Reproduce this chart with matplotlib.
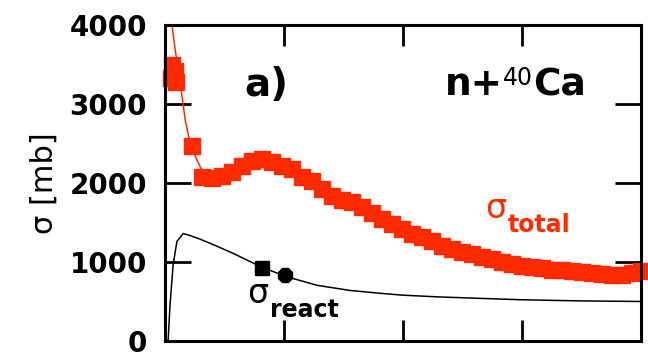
import matplotlib
matplotlib.use("Agg")
import matplotlib.pyplot as plt

plt.rcParams["font.family"] = "DejaVu Sans"

RED = "#ff2a00"

# measured total cross section (red squares)
tot_x = [2.9, 4.2, 2.5, 4.6, 11.3, 15.5, 19.7, 23.9, 28.2, 32.4, 36.6, 40.8, 45.0,
         49.2, 53.4, 57.6, 61.8, 66.0, 70.2, 74.4, 78.6, 82.8, 87.0, 91.2, 95.4,
         99.6, 103.8, 108.0, 112.2, 116.4, 120.6, 124.8, 129.0, 133.2, 137.4,
         141.6, 145.8, 150.0, 154.2, 158.4, 162.6, 166.8, 171.0, 175.2, 179.4,
         183.6, 187.8, 192.0, 196.2, 200.0]
tot_y = [3500, 3420, 3330, 3280, 2465, 2080, 2065, 2090, 2140, 2220, 2280, 2310, 2270,
         2220, 2175, 2080, 2020, 1920, 1840, 1785, 1760, 1690, 1620, 1540, 1480,
         1420, 1360, 1315, 1260, 1200, 1165, 1130, 1100, 1065, 1040,
         1005, 980, 955, 940, 920, 905, 893, 880, 868, 855,
         845, 835, 830, 865, 890]

# calculated total cross section (thin red line)
fit_x = [2.5, 3.0, 4.0, 5.0, 6.0, 7.0, 8.5, 10, 11.5, 13, 15, 18, 22, 28, 35, 41,
         50, 60, 80, 100, 120, 150, 180, 200]
fit_y = [4100, 3980, 3750, 3540, 3350, 3130, 2800, 2580, 2440, 2320, 2190, 2100,
         2080, 2150, 2270, 2310, 2200, 2030, 1720, 1410, 1170, 955, 850, 840]

# calculated reaction cross section (black line)
rea_x = [1.3, 2.1, 3.4, 5.0, 7.6, 10, 14.7, 21.8, 28.6, 39.9, 50.4, 63.9, 77.7,
         90, 100, 115, 132, 150, 174, 200]
rea_y = [0, 450, 960, 1260, 1360, 1340, 1290, 1200, 1110, 945, 820, 705, 640,
         605, 580, 558, 540, 522, 508, 500]

# measured reaction cross section points
rsq_x, rsq_y = [40.8], [918]
roc_x, roc_y = [50.4], [830]

W, H = 648, 357
fig = plt.figure(figsize=(W / 100, H / 100), dpi=100)
ax = fig.add_axes([165 / W, 1 - 341 / H, 476 / W, 316 / H])

ax.plot(fit_x, fit_y, color=RED, lw=1.1)
ax.plot(rea_x, rea_y, color="black", lw=1.1)
ax.plot(tot_x, tot_y, ls="none", marker="s", ms=11, color=RED, mec=RED, clip_on=False)
ax.plot(rsq_x, rsq_y, ls="none", marker="s", ms=10.5, color="black")
ax.plot(roc_x, roc_y, ls="none", marker="8", ms=11, color="black")

ax.set_xlim(0, 200)
ax.set_ylim(0, 4000)
ax.set_xticks([50, 100, 150])
ax.set_yticks([0, 1000, 2000, 3000, 4000])
ax.tick_params(axis="both", direction="in", width=2, top=True, right=True,
               labelbottom=False)
ax.tick_params(axis="y", length=19, pad=13, labelsize=20)
ax.tick_params(axis="x", length=15)
for lab in ax.get_yticklabels():
    lab.set_fontweight("bold")
for s in ax.spines.values():
    s.set_linewidth(2.2)

ax.set_ylabel("σ [mb]", fontsize=22, labelpad=8)


def px(x, y):
    return x / W, 1 - y / H


fig.text(*px(266, 96), "a)", fontsize=28, fontweight="bold",
         ha="center", va="baseline")

# n + 40Ca, superscript in a light face
t_n = fig.text(*px(445, 103), "n+", fontsize=27, fontweight="bold", va="bottom")
a40 = ax.annotate("40", xy=(1, 1), xycoords=t_n, xytext=(0, 1),
                  textcoords="offset points", fontsize=17,
                  va="top", ha="left", annotation_clip=False)
ax.annotate("Ca", xy=(1, 0), xycoords=(a40, t_n), xytext=(0, 0),
            textcoords="offset points", fontsize=27, fontweight="bold",
            va="bottom", ha="left", annotation_clip=False)

# sigma labels with a bold, dropped subscript
s_tot = fig.text(*px(485, 218), "σ", fontsize=24, color=RED, va="baseline")
ax.annotate("total", xy=(1, 0), xycoords=s_tot, xytext=(1, -5),
            textcoords="offset points", fontsize=17, fontweight="bold",
            color=RED, va="baseline", ha="left", annotation_clip=False)
s_rea = fig.text(*px(247, 303), "σ", fontsize=24, color="black", va="baseline")
ax.annotate("react", xy=(1, 0), xycoords=s_rea, xytext=(1, -5),
            textcoords="offset points", fontsize=17, fontweight="bold",
            color="black", va="baseline", ha="left", annotation_clip=False)

fig.savefig("out.png", dpi=100, facecolor="white")
